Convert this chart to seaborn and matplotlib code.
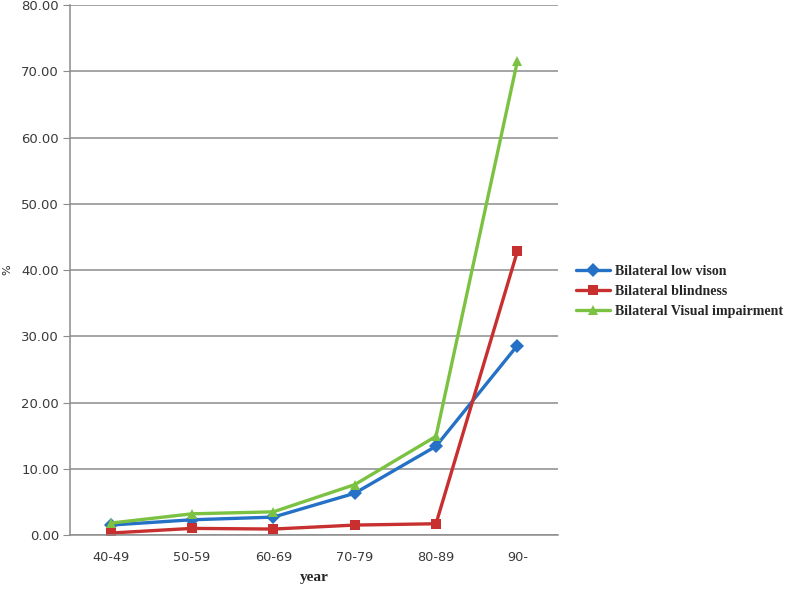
import numpy as np
import pandas as pd
import matplotlib
matplotlib.use("Agg")
import matplotlib.pyplot as plt
import seaborn as sns

# ==========================================================
# DATA
# ==========================================================

age_groups = ["40-49", "50-59", "60-69", "70-79", "80-89", "90-"]

low_vision = [1.5, 2.3, 2.7, 6.3, 13.4, 28.6]
blindness = [0.3, 1.0, 0.9, 1.5, 1.7, 42.8]
visual_impairment = [1.8, 3.2, 3.5, 7.6, 14.9, 71.5]

series_names = [
    "Bilateral low vison",
    "Bilateral blindness",
    "Bilateral Visual impairment",
]

colors = ["#2571c6", "#c8302f", "#7cc242"]
markers = ["D", "s", "^"]

df = pd.DataFrame({
    "year": age_groups * 3,
    "pos": list(range(len(age_groups))) * 3,
    "value": low_vision + blindness + visual_impairment,
    "series": np.repeat(series_names, len(age_groups)),
})

# ==========================================================
# PLOT
# ==========================================================

sns.set_style("white")

fig = plt.figure(figsize=(8, 5.9), dpi=100)
ax = fig.add_axes([0.0875, 0.0932, 0.61, 0.8983])

sns.lineplot(
    data=df,
    x="pos",
    y="value",
    hue="series",
    style="series",
    hue_order=series_names,
    style_order=series_names,
    palette=colors,
    markers=markers,
    dashes=False,
    markersize=7.5,
    markeredgewidth=0,
    linewidth=2.4,
    ax=ax,
)

ax.set_xlim(-0.5, len(age_groups) - 0.5)
ax.set_ylim(0, 80)
ax.set_yticks(np.arange(0, 81, 10))
ax.set_yticklabels([f"{v:.2f}" for v in np.arange(0, 81, 10)])
ax.set_xticks(range(len(age_groups)))
ax.set_xticklabels(age_groups)

ax.yaxis.grid(True, color="#8c8c8c", linewidth=1.1)
ax.set_axisbelow(True)

for side in ["top", "right"]:
    ax.spines[side].set_visible(False)
for side in ["left", "bottom"]:
    ax.spines[side].set_color("#8c8c8c")
    ax.spines[side].set_linewidth(1.1)

ax.tick_params(axis="y", which="major", left=True, length=5,
               color="#8c8c8c", labelsize=9.5, labelcolor="#3a3a3a", pad=3)
ax.tick_params(axis="x", which="major", bottom=False,
               labelsize=9.3, labelcolor="#3a3a3a", pad=8)

ax.set_xlabel("year", fontfamily="Liberation Serif", fontweight="bold",
              fontsize=11, labelpad=5)
ax.set_ylabel("%", fontsize=8, labelpad=6)

leg = ax.legend(
    loc="center left",
    bbox_to_anchor=(1.02, 0.46),
    frameon=False,
    prop={"family": "Liberation Serif", "weight": "bold", "size": 10.1},
    handlelength=2.4,
    labelspacing=0.5,
    handletextpad=0.4,
    borderaxespad=0.2,
)

plt.savefig("out.png", dpi=100)
